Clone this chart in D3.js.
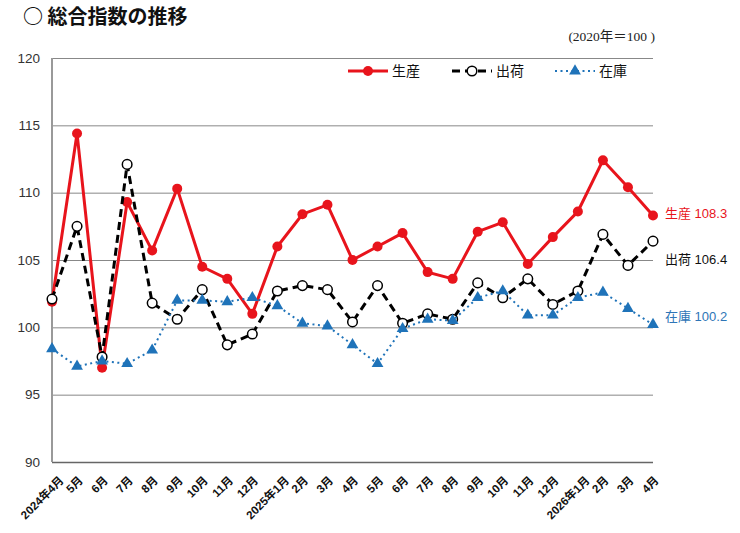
<!DOCTYPE html>
<html>
<head>
<meta charset="utf-8">
<script src="https://cdn.jsdelivr.net/npm/d3@7"></script>
<style>
  body { margin: 0; background: #fff; }
  svg { display: block; }
  text { font-family: "Liberation Sans", Arial, "Noto Sans CJK JP", sans-serif; }
</style>
</head>
<body>
<div id="chart"></div>
<script>
// Data (2020 = 100)
const months = ['2024年4月', '5月', '6月', '7月', '8月', '9月', '10月', '11月', '12月',
  '2025年1月', '2月', '3月', '4月', '5月', '6月', '7月', '8月', '9月', '10月', '11月', '12月',
  '2026年1月', '2月', '3月', '4月']
const production = [101.9, 114.4, 97.0, 109.3, 105.7, 110.3, 104.5, 103.6, 101.0,
  106.0, 108.4, 109.1, 105.0, 106.0, 107.0, 104.1, 103.6, 107.1, 107.8, 104.7, 106.7,
  108.6, 112.4, 110.4, 108.3]
const shipments = [102.1, 107.5, 97.8, 112.1, 101.8, 100.6, 102.8, 98.7, 99.5,
  102.7, 103.1, 102.8, 100.4, 103.1, 100.3, 101.0, 100.6, 103.3, 102.2, 103.6, 101.7,
  102.7, 106.9, 104.6, 106.4]
const inventory = [98.4, 97.1, 97.5, 97.3, 98.3, 102.0, 102.0, 101.9, 102.2,
  101.6, 100.3, 100.1, 98.7, 97.3, 99.9, 100.6, 100.5, 102.2, 102.7, 100.9, 100.9,
  102.2, 102.6, 101.4, 100.2]
const yTicks = [90, 95, 100, 105, 110, 115, 120]

const red = '#e8141c'
const blue = '#1f73b9'

let margin = { top: 58, left: 52, right: 87, bottom: 71 }
let width = 740 - margin.left - margin.right
let height = 533 - margin.top - margin.bottom

let svg = d3.select('#chart')
  .append('svg')
  .attr('width', 740)
  .attr('height', 533)

let g = svg.append('g')
  .attr('transform', `translate(${margin.left},${margin.top})`)

let xPositionScale = d3.scalePoint()
  .domain(d3.range(months.length))
  .range([0, width])

let yPositionScale = d3.scaleLinear()
  .domain([90, 120])
  .range([height, 0])

// title and unit note
svg.append('text')
  .text('○ 総合指数の推移')
  .attr('x', 23)
  .attr('y', 24)
  .attr('font-size', 20)
  .attr('font-weight', 'bold')
  .attr('fill', '#111')
  .style('font-family', '"Noto Sans CJK JP", sans-serif')

svg.append('text')
  .text('(2020年＝100 )')
  .attr('x', 655)
  .attr('y', 41)
  .attr('text-anchor', 'end')
  .attr('font-size', 13.5)
  .attr('fill', '#222')
  .style('font-family', '"Liberation Serif", "Noto Sans CJK JP", serif')

// y axis + gridlines
let yAxis = d3.axisLeft(yPositionScale)
  .tickValues(yTicks)
  .tickSize(-width)
  .tickPadding(12)
g.append('g')
  .attr('class', 'axis y-axis')
  .call(yAxis)
  .call(a => a.select('.domain').remove())
  .call(a => a.selectAll('line')
    .attr('stroke', d => d === 90 ? '#666' : '#888')
    .attr('stroke-width', d => d === 90 ? 1.5 : 1))
  .call(a => a.selectAll('text')
    .attr('font-size', 13.5)
    .attr('fill', '#333'))

g.append('line')
  .attr('x1', 0).attr('x2', 0)
  .attr('y1', 0).attr('y2', height)
  .attr('stroke', '#999')
  .attr('stroke-width', 2)

// x axis labels
let xAxis = d3.axisBottom(xPositionScale)
  .tickFormat(i => months[i])
  .tickSize(0)
g.append('g')
  .attr('class', 'axis x-axis')
  .attr('transform', `translate(0,${height})`)
  .call(xAxis)
  .call(a => a.select('.domain').remove())
  .call(a => a.selectAll('text')
    .attr('text-anchor', 'end')
    .attr('font-size', 11.5)
    .attr('font-weight', 'bold')
    .attr('fill', '#111')
    .attr('y', 0)
    .attr('dy', 0)
    .attr('transform', (d, i) => `translate(${months[i].length > 3 ? 12 : 6},19) rotate(-45)`))

// series
let series = [
  { name: '生産', values: production, color: red, width: 3, dash: null, marker: 'dot' },
  { name: '出荷', values: shipments, color: '#000', width: 3, dash: '8,5', marker: 'ring' },
  { name: '在庫', values: inventory, color: blue, width: 2, dash: '2,3.5', marker: 'tri' }
]

let line = d3.line()
  .x((d, i) => xPositionScale(i))
  .y(d => yPositionScale(d))

let tri = d3.symbol().type(d3.symbolTriangle).size(60)

function drawMarker(sel, s) {
  if (s.marker === 'dot') {
    sel.append('circle').attr('r', 5).attr('fill', s.color)
  } else if (s.marker === 'ring') {
    sel.append('circle').attr('r', 4.8).attr('fill', '#fff')
      .attr('stroke', '#000').attr('stroke-width', 1.5)
  } else {
    sel.append('path').attr('d', tri).attr('fill', s.color)
  }
}

series.forEach(s => {
  g.append('path')
    .datum(s.values)
    .attr('d', line)
    .attr('fill', 'none')
    .attr('stroke', s.color)
    .attr('stroke-width', s.width)
    .attr('stroke-dasharray', s.dash)

  g.selectAll(null)
    .data(s.values)
    .enter()
    .append('g')
    .attr('transform', (d, i) => `translate(${xPositionScale(i)},${yPositionScale(d)})`)
    .each(function() { drawMarker(d3.select(this), s) })
})

// end-of-line labels
let endLabels = [
  { text: '生産 108.3', value: production[production.length - 1], color: red, dy: 2 },
  { text: '出荷 106.4', value: shipments[shipments.length - 1], color: '#111', dy: 23 },
  { text: '在庫 100.2', value: inventory[inventory.length - 1], color: '#2e75b6', dy: -4 }
]
g.selectAll('.end-label')
  .data(endLabels)
  .enter()
  .append('text')
  .attr('class', 'end-label')
  .text(d => d.text)
  .attr('x', width + 12)
  .attr('y', d => yPositionScale(d.value) + d.dy)
  .attr('font-size', 13)
  .attr('fill', d => d.color)

// legend
let legendX = [296, 400, 503]
let legend = g.selectAll('.legend')
  .data(series)
  .enter()
  .append('g')
  .attr('class', 'legend')
  .attr('transform', (d, i) => `translate(${legendX[i]},13)`)

legend.append('line')
  .attr('x1', 0).attr('x2', 40)
  .attr('stroke', d => d.color)
  .attr('stroke-width', d => d.width)
  .attr('stroke-dasharray', d => d.dash)
legend.append('g')
  .attr('transform', 'translate(20,0)')
  .each(function(d) { drawMarker(d3.select(this), d) })
legend.append('text')
  .text(d => d.name)
  .attr('x', 44)
  .attr('y', 5)
  .attr('font-size', 14)
  .attr('fill', '#111')
</script>
</body>
</html>
